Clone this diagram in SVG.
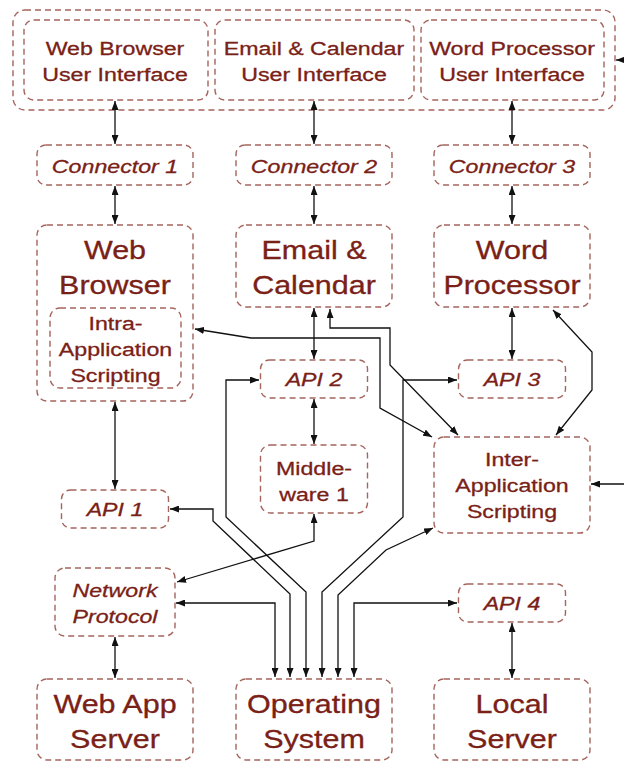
<svg xmlns="http://www.w3.org/2000/svg" width="624" height="762" viewBox="0 0 624 762">
<defs>
<style>
.box{fill:none;stroke:#a5645c;stroke-width:1.4;stroke-dasharray:6 4}
.t{font-family:"Liberation Sans",Arial,Helvetica,sans-serif;fill:#7a2117;stroke:#7a2117;stroke-width:0.3;text-anchor:middle}
.s{font-size:19px}
.b{font-size:25px}
.i{font-style:italic}
.c{fill:none;stroke:#111;stroke-width:1.3;marker-end:url(#ah)}
.d{marker-start:url(#ah)}
</style>
<marker id="ah" viewBox="0 0 9 7" refX="9" refY="3.5" markerWidth="9" markerHeight="7" markerUnits="userSpaceOnUse" orient="auto-start-reverse">
<path d="M0,0 L9,3.5 L0,7 z" fill="#111"/>
</marker>
</defs>
<rect width="624" height="762" fill="#fff"/>

<g id="ui-group">
<rect class="box" x="13" y="10" width="602" height="100" rx="12"/>
</g>
<g id="wb-ui">
<rect class="box" x="24" y="20" width="184" height="80" rx="10"/>
<text class="t s" transform="translate(115,0) scale(1.22,1)"><tspan x="0" y="55">Web Browser</tspan><tspan x="0" y="81">User Interface</tspan></text>
</g>
<g id="ec-ui">
<rect class="box" x="215" y="20" width="199" height="80" rx="10"/>
<text class="t s" transform="translate(314,0) scale(1.22,1)"><tspan x="0" y="55">Email &amp; Calendar</tspan><tspan x="0" y="81">User Interface</tspan></text>
</g>
<g id="wp-ui">
<rect class="box" x="421" y="20" width="183" height="80" rx="10"/>
<text class="t s" transform="translate(512,0) scale(1.22,1)"><tspan x="0" y="55">Word Processor</tspan><tspan x="0" y="81">User Interface</tspan></text>
</g>

<g id="connector1">
<rect class="box" x="37" y="145" width="156" height="40" rx="9"/>
<text class="t s i" transform="translate(115,0) scale(1.22,1)" x="0" y="173">Connector 1</text>
</g>
<g id="connector2">
<rect class="box" x="236" y="145" width="156" height="40" rx="9"/>
<text class="t s i" transform="translate(314,0) scale(1.22,1)" x="0" y="173">Connector 2</text>
</g>
<g id="connector3">
<rect class="box" x="434" y="145" width="156" height="40" rx="9"/>
<text class="t s i" transform="translate(512,0) scale(1.22,1)" x="0" y="173">Connector 3</text>
</g>

<g id="web-browser">
<rect class="box" x="37" y="225" width="156" height="176" rx="10"/>
<text class="t b" transform="translate(115,0) scale(1.22,1)"><tspan x="0" y="259">Web</tspan><tspan x="0" y="294">Browser</tspan></text>
</g>
<g id="intra-scripting">
<rect class="box" x="50" y="308" width="131" height="80" rx="10"/>
<text class="t s" transform="translate(115.5,0) scale(1.22,1)"><tspan x="0" y="330">Intra-</tspan><tspan x="0" y="356">Application</tspan><tspan x="0" y="382">Scripting</tspan></text>
</g>
<g id="email-calendar">
<rect class="box" x="236" y="225" width="156" height="82" rx="10"/>
<text class="t b" transform="translate(314,0) scale(1.22,1)"><tspan x="0" y="259">Email &amp;</tspan><tspan x="0" y="294">Calendar</tspan></text>
</g>
<g id="word-processor">
<rect class="box" x="434" y="225" width="156" height="82" rx="10"/>
<text class="t b" transform="translate(512,0) scale(1.22,1)"><tspan x="0" y="259">Word</tspan><tspan x="0" y="294">Processor</tspan></text>
</g>

<g id="api2">
<rect class="box" x="260.5" y="360" width="107" height="38" rx="9"/>
<text class="t s i" transform="translate(314,0) scale(1.22,1)" x="0" y="386">API 2</text>
</g>
<g id="api3">
<rect class="box" x="458.5" y="360" width="107" height="38" rx="9"/>
<text class="t s i" transform="translate(512,0) scale(1.22,1)" x="0" y="386">API 3</text>
</g>
<g id="middleware1">
<rect class="box" x="260.5" y="445" width="107" height="68" rx="10"/>
<text class="t s" transform="translate(314,0) scale(1.22,1)"><tspan x="0" y="475">Middle-</tspan><tspan x="0" y="501">ware 1</tspan></text>
</g>
<g id="inter-scripting">
<rect class="box" x="434" y="437" width="156" height="96" rx="10"/>
<text class="t s" transform="translate(512,0) scale(1.22,1)"><tspan x="0" y="466">Inter-</tspan><tspan x="0" y="492">Application</tspan><tspan x="0" y="518">Scripting</tspan></text>
</g>
<g id="api1">
<rect class="box" x="61.5" y="490" width="107" height="38" rx="9"/>
<text class="t s i" transform="translate(115,0) scale(1.22,1)" x="0" y="516">API 1</text>
</g>
<g id="network-protocol">
<rect class="box" x="55" y="568" width="120" height="68" rx="10"/>
<text class="t s i" transform="translate(115,0) scale(1.22,1)"><tspan x="0" y="597">Network</tspan><tspan x="0" y="623">Protocol</tspan></text>
</g>
<g id="api4">
<rect class="box" x="458.5" y="584" width="107" height="38" rx="9"/>
<text class="t s i" transform="translate(512,0) scale(1.22,1)" x="0" y="610">API 4</text>
</g>

<g id="web-app-server">
<rect class="box" x="37" y="679" width="156" height="81" rx="10"/>
<text class="t b" transform="translate(115,0) scale(1.22,1)"><tspan x="0" y="713">Web App</tspan><tspan x="0" y="748">Server</tspan></text>
</g>
<g id="operating-system">
<rect class="box" x="236" y="679" width="156" height="81" rx="10"/>
<text class="t b" transform="translate(314,0) scale(1.22,1)"><tspan x="0" y="713">Operating</tspan><tspan x="0" y="748">System</tspan></text>
</g>
<g id="local-server">
<rect class="box" x="434" y="679" width="156" height="81" rx="10"/>
<text class="t b" transform="translate(512,0) scale(1.22,1)"><tspan x="0" y="713">Local</tspan><tspan x="0" y="748">Server</tspan></text>
</g>

<g id="connectors">
<path class="c d" d="M115,101 V144"/>
<path class="c d" d="M314,101 V144"/>
<path class="c d" d="M512,101 V144"/>
<path class="c d" d="M115,186 V224"/>
<path class="c d" d="M314,186 V224"/>
<path class="c d" d="M512,186 V224"/>
<path class="c d" d="M115,402 V489"/>
<path class="c d" d="M314,308 V359"/>
<path class="c d" d="M314,399 V444"/>
<path class="c d" d="M512,308 V359"/>
<path class="c d" d="M115,637 V678"/>
<path class="c d" d="M512,623 V678"/>
<path class="c d" d="M553,310 L592,352 L592,390 L556,435"/>
<path class="c d" d="M195,329 L251,338 L380,338 L380,408 L432,437"/>
<path class="c d" d="M330,309 L330,328 L390,328 L390,365 L458,435"/>
<path class="c d" d="M259,380 H226 V517 L306,592 V677"/>
<path class="c d" d="M170,509 H213 V521 L290,594 V677"/>
<path class="c d" d="M176,603 H275 V677"/>
<path class="c d" d="M457,380 H403 V517 L322,592 V677"/>
<path class="c d" d="M433,528 L386,550 L338,595 V677"/>
<path class="c d" d="M457,603 H354 V677"/>
<path class="c d" d="M314,514 V541 L177,582"/>
<path class="c" d="M624,60 H616"/>
<path class="c" d="M624,484 H591"/>
</g>
</svg>
